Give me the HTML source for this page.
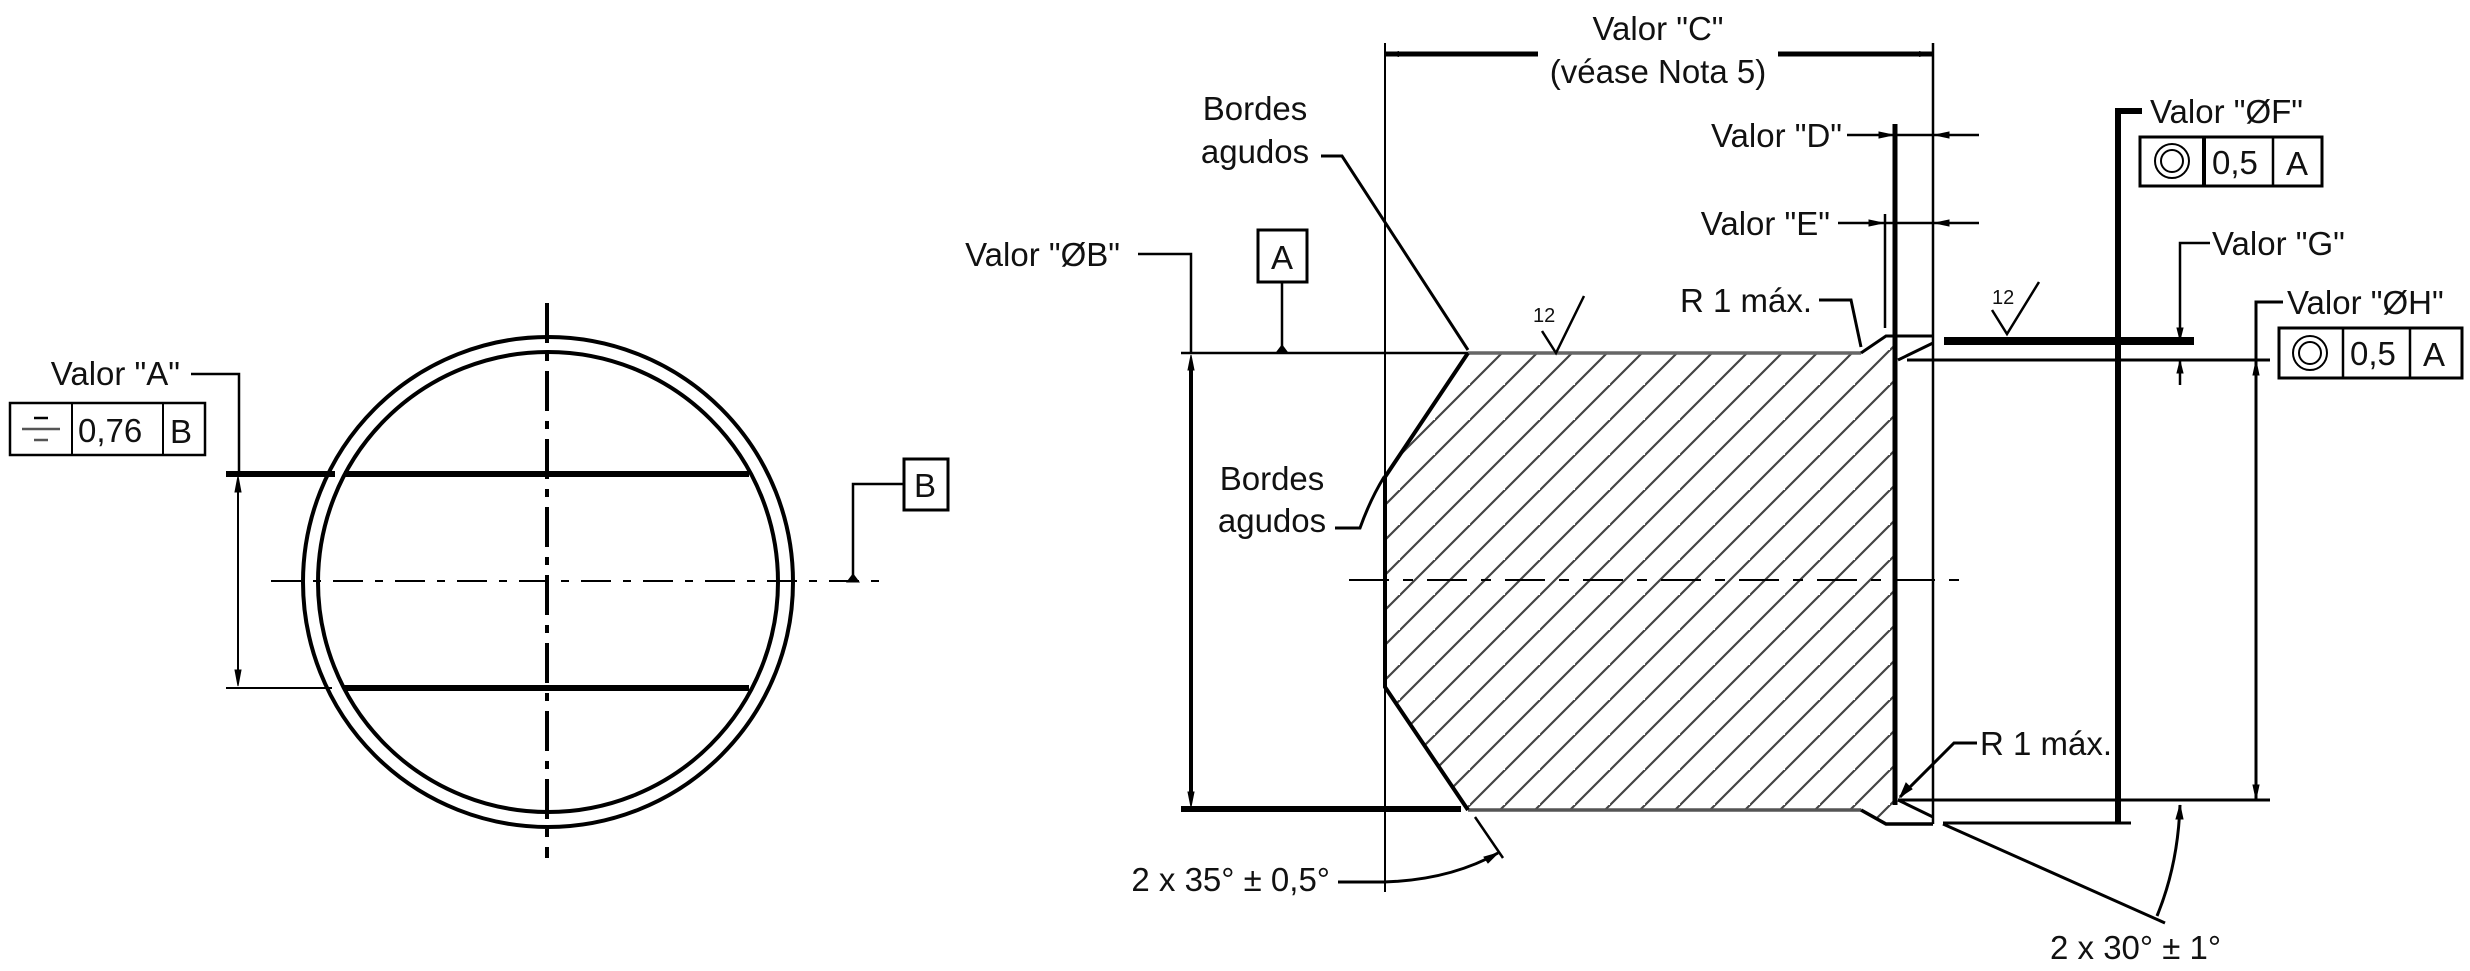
<!DOCTYPE html>
<html><head><meta charset="utf-8"><style>
html,body{margin:0;padding:0;background:#fff}
svg{display:block}
text{font-family:"Liberation Sans",sans-serif;font-size:33px;fill:#111}
</style></head><body>
<svg width="2470" height="971" viewBox="0 0 2470 971" xmlns="http://www.w3.org/2000/svg">
<defs>
<pattern id="h" patternUnits="userSpaceOnUse" width="35" height="35">
<path d="M-5,40 L40,-5 M-40,40 L5,-5 M30,75 L75,30" stroke="#444" stroke-width="2.2"/>
</pattern>
<clipPath id="cp"><polygon points="1468,353 1861,353 1886,337 1895,337 1895,824 1886,824 1861,810 1468,810 1385,687 1385,477"/></clipPath>
<marker id="a" markerWidth="14" markerHeight="8" refX="14" refY="4" orient="auto" markerUnits="userSpaceOnUse"><path d="M0,1 L14,4 L0,7z" fill="#000"/></marker>
</defs>
<g stroke="#000" fill="none">
<circle cx="548" cy="582" r="245" stroke-width="4"/>
<circle cx="548" cy="582" r="230" stroke-width="4"/>
<line x1="547" y1="303" x2="547" y2="858" stroke-width="4" stroke-dasharray="40,10,8,10"/>
<line x1="271" y1="581" x2="891" y2="581" stroke-width="2" stroke-dasharray="30,12,8,12"/>
<line x1="226" y1="474" x2="335" y2="474" stroke-width="6"/>
<line x1="344" y1="474" x2="749" y2="474" stroke-width="6"/>
<line x1="226" y1="688" x2="332" y2="688" stroke-width="2"/>
<line x1="344" y1="688" x2="749" y2="688" stroke-width="6"/>
<line x1="238" y1="490" x2="238" y2="676" stroke-width="2"/>
<path d="M238,476 l-3,16 h6z M238,686 l-3,-16 h6z" fill="#000"/>
<polyline points="191,374 239,374 239,474" stroke-width="2.5"/>
<rect x="10" y="403" width="195" height="52" stroke-width="2.5"/>
<line x1="72" y1="403" x2="72" y2="455" stroke-width="2"/>
<line x1="163" y1="403" x2="163" y2="455" stroke-width="2"/>
<line x1="22" y1="429" x2="60" y2="429" stroke-width="2.5" stroke="#555"/>
<line x1="34" y1="418" x2="48" y2="418" stroke-width="2.5"/>
<line x1="34" y1="440" x2="48" y2="440" stroke-width="2.5" stroke="#555"/>
<rect x="904" y="459" width="44" height="51" stroke-width="3"/>
<polyline points="904,484 853,484 853,578" stroke-width="2.5"/>
<path d="M853,574 l-6,8 h12z" fill="#000"/>

<rect x="1380" y="330" width="560" height="500" fill="url(#h)" stroke="none" clip-path="url(#cp)"/>
<line x1="1385" y1="43" x2="1385" y2="892" stroke-width="2"/>
<line x1="1933" y1="43" x2="1933" y2="824" stroke-width="2.5"/>
<line x1="1538" y1="54" x2="1385" y2="54" stroke-width="5" marker-end="url(#a)"/>
<line x1="1778" y1="54" x2="1933" y2="54" stroke-width="5" marker-end="url(#a)"/>
<line x1="1181" y1="353" x2="1468" y2="353" stroke-width="2.5"/>
<line x1="1468" y1="353" x2="1861" y2="353" stroke-width="3.5" stroke="#666"/>
<polyline points="1861,353 1886,336 1933,336" stroke-width="3"/>
<line x1="1181" y1="809" x2="1461" y2="809" stroke-width="6"/>
<line x1="1468" y1="810" x2="1861" y2="810" stroke-width="3.5" stroke="#555"/>
<polyline points="1861,810 1886,824 1933,824" stroke-width="3.5"/>
<polyline points="1468,353 1385,477 1385,687 1468,810" stroke-width="4"/>
<line x1="1895" y1="124" x2="1895" y2="805" stroke-width="5"/>
<line x1="1898" y1="360" x2="1933" y2="343" stroke-width="3"/>
<line x1="1898" y1="800" x2="1933" y2="817" stroke-width="3"/>
<line x1="1907" y1="360" x2="2270" y2="360" stroke-width="3"/>
<line x1="1898" y1="800" x2="2270" y2="800" stroke-width="3"/>
<line x1="1943" y1="823" x2="2131" y2="823" stroke-width="3"/>
<line x1="1944" y1="341" x2="2194" y2="341" stroke-width="8"/>
<line x1="1349" y1="580" x2="1970" y2="580" stroke-width="2" stroke-dasharray="40,14,10,14"/>
<rect x="1258" y="230" width="49" height="52" stroke-width="3"/>
<line x1="1282" y1="282" x2="1282" y2="350" stroke-width="2.5"/>
<path d="M1282,345 l-6,8 h12z" fill="#000"/>
<polyline points="1138,254 1191,254 1191,353" stroke-width="2.5"/>
<line x1="1191" y1="368" x2="1191" y2="795" stroke-width="4"/>
<path d="M1191,355 l-3,15 h6z M1191,807 l-3,-15 h6z" fill="#000"/>
<polyline points="1321,156 1342,156 1468,350" stroke-width="3"/>
<path d="M1335,528 L1360,528 Q1370,500 1384,477" stroke-width="3"/>
<polyline points="1542,331 1556,353 1584,296" stroke-width="2.5"/>
<polyline points="1992,310 2007,334 2039,282" stroke-width="2.5"/>
<polyline points="1819,300 1851,300 1861,347" stroke-width="3"/>
<line x1="1847" y1="135" x2="1979" y2="135" stroke-width="2.5"/>
<line x1="1838" y1="223" x2="1979" y2="223" stroke-width="2.5"/>
<line x1="1885" y1="214" x2="1885" y2="328" stroke-width="2.5"/>
<path d="M1893,135 l-14,-3 v6z M1935,135 l14,-3 v6z M1883,223 l-14,-3 v6z M1935,223 l14,-3 v6z" fill="#000"/>
<polyline points="2142,111 2118,111 2118,824" stroke-width="6"/>
<rect x="2140" y="137" width="182" height="49" stroke-width="3"/>
<line x1="2204" y1="137" x2="2204" y2="186" stroke-width="4"/>
<line x1="2273" y1="137" x2="2273" y2="186" stroke-width="2.5"/>
<circle cx="2172" cy="161" r="17" stroke-width="2"/>
<circle cx="2172" cy="161" r="11" stroke-width="2"/>
<polyline points="2210,243 2180,243 2180,341" stroke-width="2.5"/>
<line x1="2180" y1="360" x2="2180" y2="385" stroke-width="2.5"/>
<path d="M2180,340 l-3,-12 h6z M2180,361 l-3,12 h6z" fill="#000"/>
<polyline points="2283,302 2256,302 2256,799" stroke-width="3"/>
<path d="M2256,361 l-3,14 h6z M2256,799 l-3,-14 h6z" fill="#000"/>
<rect x="2279" y="328" width="183" height="50" stroke-width="3"/>
<line x1="2343" y1="328" x2="2343" y2="378" stroke-width="2.5"/>
<line x1="2410" y1="328" x2="2410" y2="378" stroke-width="2.5"/>
<circle cx="2310" cy="353" r="17" stroke-width="2"/>
<circle cx="2310" cy="353" r="11" stroke-width="2"/>
<polyline points="1977,743 1954,743 1900,797" stroke-width="3"/>
<path d="M1900,797 l6,-14 l6,6z" fill="#000"/>
<line x1="1475" y1="817" x2="1503" y2="858" stroke-width="2.5"/>
<path d="M1338,882 L1384,882 Q1450,880 1498,853" stroke-width="3"/>
<path d="M1498,853 l-14,4 l4,6z" fill="#000"/>
<line x1="1943" y1="824" x2="2165" y2="923" stroke-width="3"/>
<path d="M2157,916 Q2178,865 2180,805" stroke-width="3"/>
<path d="M2180,805 l-4,14 h7z" fill="#000"/>
</g>
<g>
<text x="180" y="385" text-anchor="end">Valor "A"</text>
<text x="78" y="442">0,76</text>
<text x="170" y="443">B</text>
<text x="914" y="497">B</text>
<text x="1658" y="40" text-anchor="middle">Valor "C"</text>
<text x="1658" y="83" text-anchor="middle">(véase Nota 5)</text>
<text x="1255" y="120" text-anchor="middle">Bordes</text>
<text x="1255" y="163" text-anchor="middle">agudos</text>
<text x="1272" y="490" text-anchor="middle">Bordes</text>
<text x="1272" y="532" text-anchor="middle">agudos</text>
<text x="1120" y="266" text-anchor="end">Valor "ØB"</text>
<text x="1271" y="269">A</text>
<text x="1533" y="322" style="font-size:20px">12</text>
<text x="1992" y="304" style="font-size:20px">12</text>
<text x="1812" y="312" text-anchor="end">R 1 máx.</text>
<text x="1842" y="147" text-anchor="end">Valor "D"</text>
<text x="1830" y="235" text-anchor="end">Valor "E"</text>
<text x="2150" y="123">Valor "ØF"</text>
<text x="2212" y="174">0,5</text>
<text x="2286" y="175">A</text>
<text x="2212" y="255">Valor "G"</text>
<text x="2287" y="314">Valor "ØH"</text>
<text x="2350" y="365">0,5</text>
<text x="2423" y="366">A</text>
<text x="1980" y="755">R 1 máx.</text>
<text x="1330" y="891" text-anchor="end">2 x 35° ± 0,5°</text>
<text x="2050" y="959">2 x 30° ± 1°</text>
</g>
</svg>
</body></html>
